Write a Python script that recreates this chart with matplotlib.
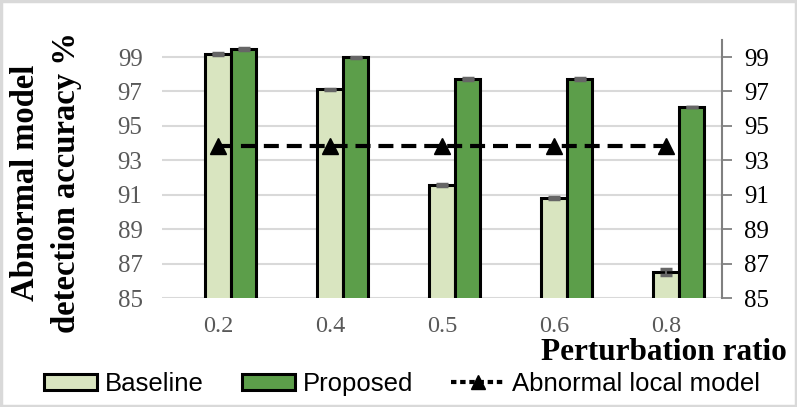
import numpy as np
import matplotlib.pyplot as plt
from matplotlib.patches import Rectangle
from matplotlib.lines import Line2D

# values
ratios = ["0.2", "0.4", "0.5", "0.6", "0.8"]
baseline = [99.17, 97.12, 91.55, 90.80, 86.50]
proposed = [99.47, 98.98, 97.74, 97.74, 96.07]
abnormal = [93.85, 93.85, 93.85, 93.85, 93.85]
baseline_err = [0.05, 0.05, 0.05, 0.05, 0.18]
proposed_err = [0.05, 0.05, 0.05, 0.05, 0.0]
yticks = [85, 87, 89, 91, 93, 95, 97, 99]

SERIF = "Liberation Serif"
SANS = "Liberation Sans"
C_BASE = "#D9E5C0"
C_PROP = "#5C9E4A"
GRID = "#D9D9D9"
TXT_GREY = "#595959"

fig = plt.figure(figsize=(7.97, 4.07), dpi=100)
ax = fig.add_axes([0.2033, 0.2678, 0.7027, 0.6344])

x = np.arange(len(ratios))
w = 0.228
ax.bar(x, baseline, width=w, color=C_BASE, edgecolor="black", lw=2.2,
       label="Baseline", zorder=3)
ax.bar(x + w, proposed, width=w, color=C_PROP, edgecolor="black", lw=2.2,
       label="Proposed", zorder=3)
ax.errorbar(x, baseline, yerr=baseline_err, fmt="none", ecolor="#666666",
            elinewidth=1.5, capsize=4, capthick=2.5, zorder=4)
ax.errorbar(x + w, proposed, yerr=proposed_err, fmt="none", ecolor="#666666",
            elinewidth=1.5, capsize=4, capthick=2.5, zorder=4)
ax.plot(x, abnormal, color="black", lw=3.0, dashes=(3.6, 1.9), marker="^", ms=12,
        zorder=5)

ax.set_xlim(-0.5, len(ratios) - 0.5)
ax.set_ylim(85, 100)
ax.set_yticks(yticks)
ax.set_xticks(x)
ax.set_xticklabels(ratios)
ax.tick_params(axis="x", length=0, pad=13, labelsize=17.5, labelcolor=TXT_GREY)
ax.tick_params(axis="y", length=0, pad=14, labelsize=18, labelcolor=TXT_GREY)
for lab in ax.get_xticklabels() + ax.get_yticklabels():
    lab.set_fontfamily(SERIF)
ax.grid(axis="y", color=GRID, lw=1.5)
ax.set_axisbelow(True)
for s in ax.spines.values():
    s.set_visible(False)

ax2 = ax.twinx()
ax2.set_ylim(85, 100)
ax2.set_yticks(yticks)
ax2.tick_params(axis="y", direction="out", length=7, width=1.3, color="#808080",
                pad=9, labelsize=18, labelcolor="black")
for lab in ax2.get_yticklabels():
    lab.set_fontfamily(SERIF)
for k, s in ax2.spines.items():
    s.set_visible(k == "right")
ax2.spines["right"].set_color("#808080")
ax2.spines["right"].set_linewidth(1.5)

fig.text(46 / 797, (407 - 183) / 407, "Abnormal model\ndetection accuracy %",
         rotation=90, ha="center", va="center", ma="center", fontsize=23.5,
         fontweight="bold", family=SERIF, linespacing=1.38)
fig.text(787 / 797, (407 - 360) / 407, "Perturbation ratio", ha="right",
         va="baseline", fontsize=22.5, fontweight="bold", family=SERIF)

h, l = ax.get_legend_handles_labels()
line_handle = Line2D([], [], color="black", lw=3.0, dashes=(1.3, 0.9),
                     marker="^", ms=10)
fig.legend([h[0], h[1], line_handle], [l[0], l[1], "Abnormal local model"],
           loc="center", bbox_to_anchor=((41 + 763) / 2 / 797, (407 - 384) / 407),
           ncol=3, frameon=False, prop={"family": SANS, "size": 18.5},
           handlelength=2.05, handleheight=0.6, handletextpad=0.3,
           columnspacing=1.5, borderaxespad=0, borderpad=0)

fig.patches.append(Rectangle((0.0015, 0.003), 0.997, 0.994, transform=fig.transFigure,
                             fill=False, edgecolor=GRID, lw=2.5))

fig.savefig("out.png", dpi=100)
